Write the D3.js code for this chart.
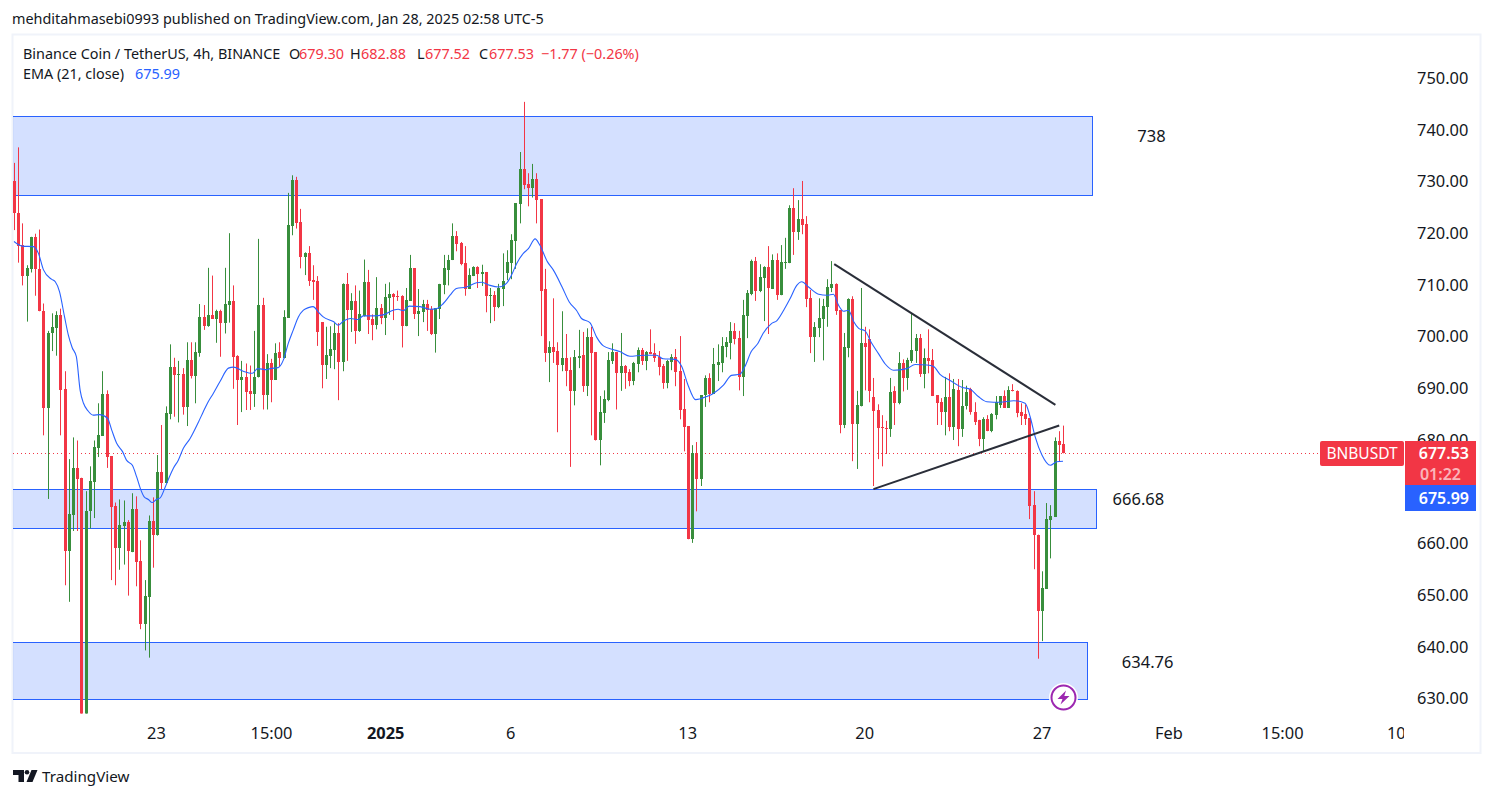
<!DOCTYPE html>
<html>
<head>
<meta charset="utf-8">
<title>BNBUSDT 4h</title>
<script src="https://cdnjs.cloudflare.com/ajax/libs/d3/7.8.5/d3.min.js"></script>
<style>
    html, body { margin: 0; padding: 0; background: #fff; }
    svg { display: block; }
    text { font-family: "Noto Sans", Roboto, sans-serif; fill: #131722; }
</style>
</head>
<body>
<svg id="chart" width="1494" height="798"></svg>
<script>
// candele 4h, una per colonna
var opens = [
    730.2,724,717.8,711.9,713.2,719.4,713.2,705,686.3,700.7,
    701.8,704.3,690,658.7,665.5,674.6,672.7,627,666.3,672,
    678.6,680.9,689,677,667.3,659.2,663.4,664.2,658.5,666.7,
    656.6,644.6,649.7,664.5,661.8,674,671.7,685.1,694.2,692.6,
    692.9,686.5,695.6,692.5,697,703.9,702.2,704.3,703.5,705.1,
    702.8,706.2,707,696.4,691.7,692.3,689.5,689,692.2,706.2,
    688.8,695,691.7,697.1,695.9,703.7,721.5,730.4,722.2,715.5,
    716.2,711,710.8,702.9,694.6,696.3,697.5,700.8,695.2,710.3,
    705.2,707,701.2,704,710.6,703.5,702.3,705.6,703.7,707.5,
    708.3,707.9,707.9,702.1,707,713.3,704.4,704.8,706.4,705.4,
    700.6,705.4,710,713,714.9,719.5,718.2,714.3,709.3,711.8,
    713.5,712.3,712.6,707.9,708.1,705.8,709.3,712.4,714.3,718.6,
    725.7,732.5,729.6,728.8,730.6,726.7,709.3,696.9,698,697.3,
    694.6,695.9,693.6,689.6,695.9,696.5,690.5,700,697.1,680,
    685.3,687.8,695.4,697.1,693,694.4,693.2,691.5,694.8,697.5,
    695.4,697.1,696.9,696.1,694.4,691.1,695.2,696.1,693.4,686.1,
    682.8,660.9,677.6,672.5,688.8,692.1,689,694.6,695,698,
    698.8,701.2,699.8,692.3,704,708.3,714.7,708.9,711.4,713.5,
    709.3,714.9,708.1,714.3,714.3,725,720.3,722.8,721.9,707.5,
    700,701.8,703.5,705.8,709.5,710.3,705.2,683,697.9,707.4,
    683.2,686.6,698.8,699.6,688.4,685.9,682.6,682.4,682.3,689.5,
    687.2,695,692,695.4,697.3,699.8,692.8,695.9,695.5,688.8,
    687.4,685.5,688.4,682.6,689.8,682.2,686.7,690,685.5,683.9,
    680.2,684.1,681.8,684.9,686.9,688.6,686.3,689.7,689.5,685.5,
    685.1,684.3,667.5,661.8,647.1,651.3,664.6,665.2,679.9,679.3
];
var highs = [
    733.7,736.7,722,713.9,719.4,720,720.8,706.5,701.2,704.6,
    705,705.5,693.4,676.4,680.6,680,672.8,670.2,675,680,
    687.2,693.4,689.7,677,668,668.6,668.4,664.6,669.8,669.2,
    660.7,653,665.5,669,677.2,683,686.6,698.6,696,695.4,
    694,699,699,699,706.4,706.2,713.4,711.9,705.3,705.3,
    713.4,720.1,710,696.5,695.4,694.9,694.5,701.2,719,707.6,
    696.7,695.8,698.8,699,705.2,727.9,731.3,731,724.8,716.4,
    717.6,713.9,711.8,702.9,702,702.1,702.7,702.7,710.4,712.4,
    708.5,710,709,715,713,704.4,711.6,706.4,710.3,710.6,
    708.5,709,708.1,709.5,715.9,713.3,709.3,707.2,707.2,706,
    705.6,710.3,715.9,715.9,722,720.5,718.4,717.6,713.3,713.7,
    713.7,714,712.6,709.5,708.9,710.3,716.2,716.8,719.9,725.9,
    735.8,745.5,731.7,733.5,731.7,726.7,713.2,699.2,707.5,699,
    705,700.6,696.1,697.5,701.4,701,701.7,702,697.1,688.6,
    689.7,697.1,698.8,697.1,700.8,694.6,693.8,695.2,698,697.9,
    697.3,701.5,698.8,697.3,694.8,695.6,696.7,697.7,700.2,691.9,
    682.8,679.1,679.7,688.8,692.6,693,697.9,698.6,700,700,
    702.9,702.7,701.2,707.2,709.1,715,715.5,714.1,713.7,717.6,
    716,716.2,717.8,719.2,725.5,728.8,726.5,730.2,723.4,709.1,
    702.9,707.5,707.4,711.2,714.7,710.4,705.2,700.8,707.5,707.9,
    689.6,709.5,702,701.5,692.1,687,684.9,683.8,692.1,690.5,
    697.1,695.7,696,704.5,700.6,700.6,697.8,701.5,697.7,688.8,
    688.2,692.3,693,691.9,691.9,691.7,690.6,690.2,687.4,684,
    684.5,684.9,685.3,688.6,688.6,689.7,690.5,690.9,689.7,687.2,
    687,684.3,670.2,661.8,654.7,667.9,667.5,680.6,681.8,682.88
];
var lows = [
    720.7,714.4,710,703,712.5,708,705,681,668.7,697.3,
    696.4,681,652,648.8,662.5,662.5,627,627,663,665,
    676.8,680.9,674.7,653,652,655,656,650,658.4,651.8,
    643.5,639.4,638,655.4,661.6,670.6,671.7,684.1,684.6,683.5,
    685,682.8,692,687.2,696.2,701.4,702,703.5,698.9,696.2,
    700.7,702.8,690,683,685.5,685.9,685.9,686.5,692.2,686,
    686,687.4,691.7,694.2,695.9,703.7,719.7,721,713.3,712,
    709.9,707.2,698.3,690.1,691.9,694,693.8,687.8,693.4,695.4,
    701,698.7,701,704,700.6,699.4,701.5,702.5,700.4,704.3,
    703.3,707,698,702.1,707,703.5,700.2,702.9,701.2,700.4,
    697,703.5,708.3,710,714.9,716.6,713.9,708,709.3,711.8,
    709.5,709.9,704.8,702.7,703.1,705.6,706,711,711.2,713.2,
    722,728.6,725.3,727,722,700.2,695.2,691.3,695,681.6,
    693.4,690.5,674.9,686.8,694,689.4,688.6,681,680,675.2,
    683.4,687.6,694.8,686,689.6,690,690.5,690.7,693.2,694.6,
    693.6,696.7,695.2,692.6,690,690.1,693.6,690.5,684.1,677.9,
    660.9,660.2,666.3,671.2,686.5,687.4,689,691.5,693.2,696.1,
    695.7,698.6,689.7,688.6,699.8,708.1,707,708.7,703.1,700.6,
    709.3,707.2,708.1,713.2,714.3,715.9,718.8,719.9,705.8,696.9,
    695.2,700,695.5,702,708.7,704.3,681.4,682.4,696.1,676,
    674.5,686.6,689.7,687.4,671.2,676.4,675,677.4,680.7,683,
    687,689.5,689.8,695,695,692.3,690.1,693,688.6,683,
    683,681,681.8,680.1,678.9,680.7,686,685,683,678.9,
    678,681.8,681.6,684.1,686.3,686.3,686.3,689.5,684.5,683,
    683,664.8,655.1,637.8,641.2,651.3,657.2,665.2,675.9,677.52
];
var closes = [
    724,717.7,711.9,713.4,719.4,713.1,705,686.3,700.8,702,
    704.3,689.8,658.7,665.7,674.6,672.6,627,666.4,672.1,678.7,
    681,689,676.8,667.2,659.2,663.6,664.2,658.6,666.7,656.5,
    644.6,649.9,664.5,661.8,674,671.7,685.3,694.2,692.7,692.8,
    686.5,695.6,692.5,697.2,703.9,702.2,704.3,703.5,705.1,702.8,
    706.4,707,696.2,691.7,692.3,689.4,688.9,692.3,706.2,688.8,
    695,691.7,697,695.9,703.9,721.7,730.4,722,715.5,716.2,
    710.8,710.6,701,694.6,696.5,697.7,700.8,695.2,710.3,705.2,
    707,701.2,704.4,710.6,703.3,702.3,705.6,703.7,707.7,708.3,
    707.7,707.7,702.1,707.2,713.3,704.4,705,706.4,705.2,700.6,
    705.6,710.3,713.3,715,719.5,718,714.1,709.3,712,713.5,
    712.2,712.5,707.9,708.1,705.8,709.5,710.8,714.5,718.8,725.9,
    732.5,729.4,728.8,730.6,726.5,709,696.9,698,697.1,694.6,
    695.9,693.4,689.6,696.1,696.3,690.5,700,696.9,680,685.5,
    688,695.6,697.1,693,694.4,693,691.5,695,697.5,695.4,
    697.1,696.7,695.9,694.2,691.1,695.4,696.1,693.2,685.9,682.6,
    660.9,677.6,672.5,688.8,692.1,689,694.8,695.2,698.3,699,
    701.2,699.6,692.3,704.3,708.5,714.7,708.9,711.6,713.5,709.5,
    714.9,708.1,714.5,714.5,725,720.3,722.8,721.7,707.4,700,
    702,703.7,706,709.7,710.3,705,683,698,707.4,683.2,
    686.8,698.8,698,689.5,685.7,682.4,682.4,682.2,689.4,687.2,
    695,692,695.5,697.5,699.8,692.8,695.9,695.4,688.6,687.2,
    685.5,688.4,682.6,690,682.2,686.7,689.4,685.5,683.5,680.2,
    684.1,681.8,685.1,687.4,688.6,686.3,689.7,689.5,685.3,684.7,
    684.1,667.3,661.7,647.1,651.4,664.8,665.4,679.9,679.1,677.53
];

// EMA 21: posizione in candele e valore letto
var emaAt = [
    0,2,4.6,5.8,7,8.9,9.8,10.8,12,12.9,13.8,14.8,15.7,16.5,17.6,18.8,20.3,22.2,23.2,24.4,
    25.8,26.7,28.1,29.1,30,30.9,31.9,32.8,33.8,34.7,35.9,36.9,37.8,39,40.2,41.8,43.8,44.9,46.1,47.3,
    48.9,50.9,52.1,54.4,56.6,57.8,60,60.8,62.7,63.9,65.1,66.3,67.5,68.7,69.9,71,72.2,73.4,75.8,77,
    78.2,79.8,81.7,82.9,85.3,87.6,90,91.2,92.4,93.8,96.4,98.7,100.3,101.9,103.5,105,107.4,109.8,111,113,
    115,116.9,118.1,119.3,120.9,122.1,123.7,124.8,126.6,128,130.1,131.8,133.5,134.7,136.7,138.3,139.9,142.2,143.8,146.2,
    149.4,152.5,154.1,156.9,158.5,160,161.8,164.4,166,168.4,170.3,172.3,173.5,175,176.6,177.8,179.8,181.1,182.7,184.2,
    185.8,187,188.6,191,193,194.5,195.7,196.9,198.1,199.3,200.5,202,203.6,205.2,206.8,208.8,211.9,213.9,216.7,218.3,
    219.8,222.2,225,227,228.9,230.9,234.1,237.3,240,241.2,242.4,244,246,247.5,249
];
var emaValues = [
    718.5,717.6,717.5,716.2,713,711.2,710.7,708.8,703.9,700.4,698,696.2,689.7,687.2,685.7,684.9,685,684.3,682,679.4,
    677.8,676.2,675.2,673,670.7,669.1,668.6,668,668.6,668.9,671,673,674.6,676.2,678.5,680.4,683.6,685.5,687.5,689.1,
    691.4,694,694.2,693.4,693,693.9,693.7,693.9,694.1,695.5,698.8,701.4,703.9,705.2,705.7,705.9,704.9,703.9,703,702.3,
    703.1,703.6,703.4,704.1,704.1,704.3,705.2,705.4,705.1,706,705.9,705.4,705.5,706.5,708.1,709.4,709.7,710.5,710.6,710,
    709.7,710.4,712,714.2,716.2,717.1,719,717.8,714.6,713,709.7,706.8,705.2,703.6,702.8,700,698.3,697.6,697.2,696.3,
    696.5,696.5,695.8,695.7,694.3,690.7,687.9,688.5,689.1,690.7,692.6,692.8,694.3,697.2,698.8,700.7,702.6,703.2,705.2,707.4,
    710,710.7,709.7,708.3,708.1,708.3,706.2,705,705.2,703,701.7,701.2,698.8,696.8,694.8,693.6,693.9,694.7,694.6,694.3,
    692.8,691.6,690.3,689.9,688.5,687.5,687.4,687.7,687.2,684.6,680.7,677.2,675.2,675.9,675.99
];

// il 670 resta nascosto dalle etichette nel riferimento
var priceTicks = [630,640,650,660,680,690,700,710,720,730,740,750];
var dateTicks = [33.7,61,88.1,117.8,159.8,201.8,243.9,274,301,328];
var dateLabels = ["23","15:00","2025","6","13","20","27","Feb","15:00","10"];

// zone: prezzo alto, prezzo basso, fine in candele, etichetta
var zoneTops = [742.7,670.6,641];
var zoneBottoms = [727.4,663,630];
var zoneEnds = [256,256.8,254.8];
var zoneLabels = ["738","666.68","634.76"];
var zoneLabelAt = [270,266.9,269.1];
var zoneLabelPrice = [738.9,668.6,637.2];

var wedgeFrom = [[194.7,714.1],[204,670.6]];
var wedgeTo = [[247.2,686.9],[248.1,682.9]];

var lastClose = 677.53;
var lastEma = 675.99;

var RED = "#f23645", GREEN = "#388e3c", BLUE = "#2962ff";

var svg = d3.select("#chart");
var xScale = d3.scaleLinear().domain([0, 249]).range([14, 1063]);
var yScale = d3.scaleLinear().domain([630, 750]).range([699, 78.6]);

var candles = opens.map(function(o, i) {
    return {i: i, o: o, h: highs[i], l: lows[i], c: closes[i]};
});

// bordo del pannello
svg.append("rect")
    .attr("x", 12.5).attr("y", 34.5).attr("width", 1468).attr("height", 718.5)
    .attr("fill", "none").attr("stroke", "#f0f3fa").attr("stroke-width", 2);

svg.append("clipPath").attr("id", "pane")
    .append("rect").attr("x", 13).attr("y", 35).attr("width", 1391).attr("height", 678.5);

var plot = svg.append("g").attr("clip-path", "url(#pane)");

// zone azzurre sotto le candele
plot.selectAll("rect.zone")
    .data(zoneTops)
    .enter()
    .append("rect")
    .attr("class", "zone")
    .attr("x", 8)
    .attr("y", function(d) { return Math.round(yScale(d)) + 0.5 })
    .attr("width", function(d, i) { return Math.round(xScale(zoneEnds[i])) + 0.5 - 8 })
    .attr("height", function(d, i) { return Math.round(yScale(zoneBottoms[i])) - Math.round(yScale(d)) })
    .attr("fill", "rgba(41,98,255,0.2)")
    .attr("stroke", BLUE)
    .attr("stroke-width", 1);

// linea dell'ultimo prezzo
plot.append("line")
    .attr("x1", 13).attr("x2", 1320)
    .attr("y1", Math.round(yScale(lastClose)) + 0.5).attr("y2", Math.round(yScale(lastClose)) + 0.5)
    .attr("stroke", RED).attr("stroke-width", 1).attr("stroke-dasharray", "1 3");

var candleColor = function(d) { return d.c >= d.o ? GREEN : RED };

plot.selectAll("rect.wick")
    .data(candles)
    .enter()
    .append("rect")
    .attr("class", "wick")
    .attr("x", function(d) { return Math.round(xScale(d.i)) })
    .attr("y", function(d) { return yScale(d.h) })
    .attr("width", 1)
    .attr("height", function(d) { return yScale(d.l) - yScale(d.h) })
    .attr("fill", candleColor);

plot.selectAll("rect.body")
    .data(candles)
    .enter()
    .append("rect")
    .attr("class", "body")
    .attr("x", function(d) { return Math.round(xScale(d.i)) - 1 })
    .attr("y", function(d) { return Math.round(yScale(Math.max(d.o, d.c))) })
    .attr("width", 3)
    .attr("height", function(d) {
        return Math.max(1, Math.round(yScale(Math.min(d.o, d.c))) - Math.round(yScale(Math.max(d.o, d.c))));
    })
    .attr("fill", candleColor);

var emaLine = d3.line()
    .x(function(d, i) { return xScale(emaAt[i]) })
    .y(function(d) { return yScale(d) })
    .curve(d3.curveMonotoneX);

plot.append("path")
    .attr("d", emaLine(emaValues))
    .attr("fill", "none")
    .attr("stroke", BLUE)
    .attr("stroke-width", 1.1);

// triangolo disegnato a mano
plot.selectAll("line.wedge")
    .data(wedgeFrom)
    .enter()
    .append("line")
    .attr("class", "wedge")
    .attr("x1", function(d) { return xScale(d[0]) })
    .attr("y1", function(d) { return yScale(d[1]) })
    .attr("x2", function(d, i) { return xScale(wedgeTo[i][0]) })
    .attr("y2", function(d, i) { return yScale(wedgeTo[i][1]) })
    .attr("stroke", "#2a2e39")
    .attr("stroke-width", 2);

plot.selectAll("text.zone-label")
    .data(zoneLabels)
    .enter()
    .append("text")
    .attr("class", "zone-label")
    .attr("x", function(d, i) { return xScale(zoneLabelAt[i]) })
    .attr("y", function(d, i) { return yScale(zoneLabelPrice[i]) })
    .attr("dy", "0.35em")
    .attr("text-anchor", "middle")
    .attr("font-size", 16.5)
    .text(function(d) { return d });

// icona viola
var bolt = svg.append("g").attr("transform", "translate(1063.5,697.5)");
bolt.append("circle").attr("r", 14.5).attr("fill", "#fff");
bolt.append("circle").attr("r", 12).attr("fill", "none").attr("stroke", "#9c27b0").attr("stroke-width", 2);
bolt.append("path").attr("d", "M2.5 -7 L-6 1.5 L-1 1.5 L-3 7 L6 -1.5 L0.8 -1.5 Z").attr("fill", "#9c27b0");

// assi
var priceAxis = d3.axisRight(yScale).tickValues(priceTicks).tickSize(0).tickPadding(0)
    .tickFormat(d3.format(".2f"));
var priceG = svg.append("g").attr("transform", "translate(1417,-0.5)").call(priceAxis);
priceG.select(".domain").remove();
priceG.selectAll("text").attr("font-size", 16.4).attr("font-family", null).style("fill", "#131722");

var dateAxis = d3.axisBottom(xScale).tickValues(dateTicks).tickSize(0).tickPadding(0)
    .tickFormat(function(d, i) { return dateLabels[i] });
var dateClip = svg.append("clipPath").attr("id", "dates");
dateClip.append("rect").attr("x", 13).attr("y", 714).attr("width", 1391).attr("height", 38);
var dateG = svg.append("g").attr("clip-path", "url(#dates)")
    .append("g").attr("transform", "translate(0,727)").call(dateAxis);
dateG.select(".domain").remove();
dateG.selectAll("text").attr("font-size", 16.4).attr("font-family", null).style("fill", "#131722")
    .attr("font-weight", function(d, i) { return dateLabels[i] === "2025" ? 700 : 400 });

// etichette a destra
svg.append("rect").attr("x", 1320).attr("y", 441).attr("width", 84).attr("height", 25)
    .attr("rx", 2).attr("fill", RED);
svg.append("text").attr("x", 1362).attr("y", 459).attr("text-anchor", "middle")
    .attr("font-size", 15.5).style("fill", "#fff").text("BNBUSDT");
svg.append("rect").attr("x", 1405).attr("y", 441).attr("width", 71).attr("height", 44)
    .attr("fill", RED);
svg.append("text").attr("x", 1469).attr("y", 459).attr("text-anchor", "end")
    .attr("font-size", 16).attr("font-weight", 600).style("fill", "#fff").text(lastClose.toFixed(2));
svg.append("text").attr("x", 1461).attr("y", 480).attr("text-anchor", "end")
    .attr("font-size", 16).attr("font-weight", 600).style("fill", "rgba(255,255,255,0.65)").text("01:22");
svg.append("rect").attr("x", 1405).attr("y", 485).attr("width", 71).attr("height", 26)
    .attr("fill", BLUE);
svg.append("text").attr("x", 1469).attr("y", 504).attr("text-anchor", "end")
    .attr("font-size", 16).attr("font-weight", 600).style("fill", "#fff").text(lastEma.toFixed(2));

// testata
svg.append("text").attr("x", 12).attr("y", 24).attr("font-size", 14.4)
    .text("mehditahmasebi0993 published on TradingView.com, Jan 28, 2025 02:58 UTC-5");

var headerTexts = ["Binance Coin / TetherUS, 4h, BINANCE","O","679.30","H","682.88","L","677.52","C","677.53","\u22121.77 (\u22120.26%)"];
var headerX = [23,289,299,350,361,417,425,479,489,541];
var headerRed = [false,false,true,false,true,false,true,false,true,true];
svg.selectAll("text.head")
    .data(headerTexts)
    .enter()
    .append("text")
    .attr("class", "head")
    .attr("x", function(d, i) { return headerX[i] })
    .attr("y", 59)
    .attr("font-size", 14.4)
    .style("fill", function(d, i) { return headerRed[i] ? RED : "#131722" })
    .text(function(d) { return d });

svg.append("text").attr("x", 23).attr("y", 79).attr("font-size", 14.4).text("EMA (21, close)");
svg.append("text").attr("x", 135).attr("y", 79).attr("font-size", 14.4).style("fill", BLUE).text(lastEma.toFixed(2));

// logo TradingView
var logo = svg.append("g").attr("fill", "#131722");
logo.append("path").attr("d", "M13 770 H24 V782 H18.5 V775 H13 Z");
logo.append("circle").attr("cx", 27).attr("cy", 772.3).attr("r", 2.3);
logo.append("path").attr("d", "M31.5 770 H37.5 L32.5 782 H26.5 Z");
svg.append("text").attr("x", 42).attr("y", 782).attr("font-size", 15.2).text("TradingView");
</script>
</body>
</html>
